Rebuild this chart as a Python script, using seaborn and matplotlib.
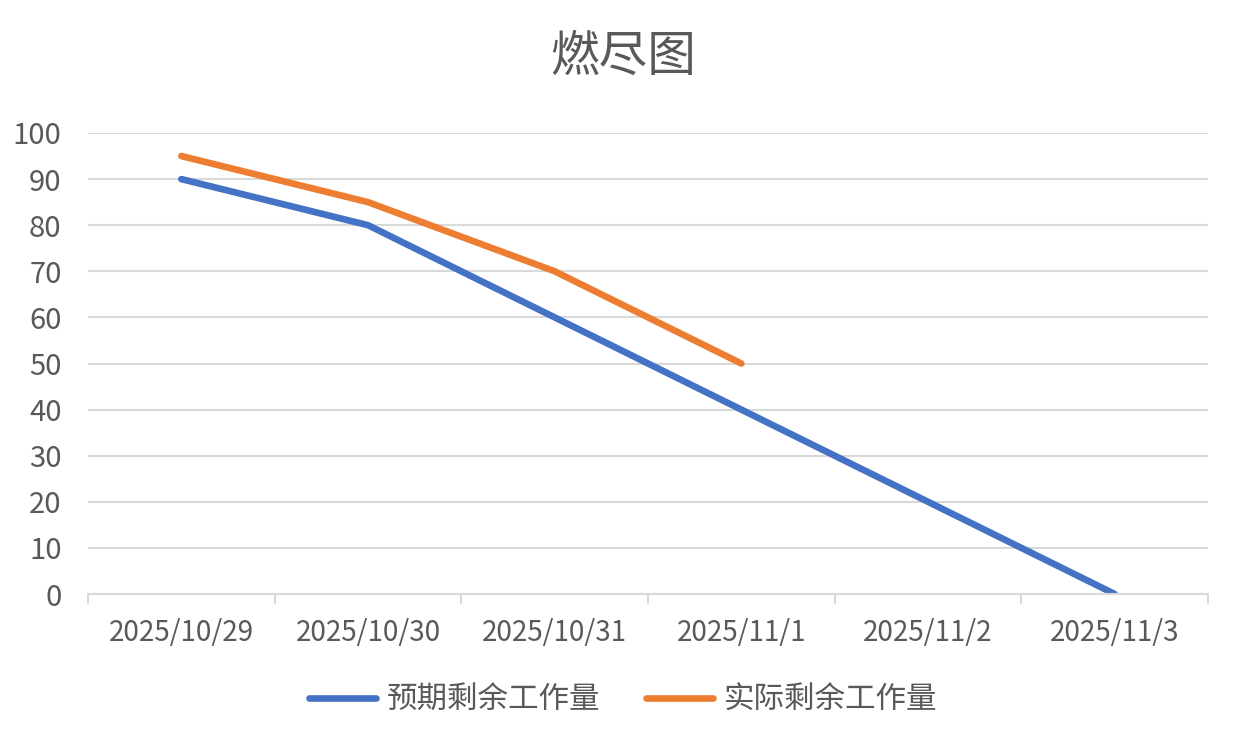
import numpy as np
import pandas as pd
import matplotlib
matplotlib.use("Agg")
import matplotlib.pyplot as plt
import seaborn as sns

# data
dates = ["2025/10/29", "2025/10/30", "2025/10/31", "2025/11/1", "2025/11/2", "2025/11/3"]
expected = [90, 80, 60, 40, 20, 0]
actual = [95, 85, 70, 50, np.nan, np.nan]
series_names = ["预期剩余工作量", "实际剩余工作量"]
colors = ["#4472C4", "#ED7D31"]

sns.set_style("white")
plt.rcParams["font.family"] = ["Noto Sans CJK SC", "DejaVu Sans"]

df = pd.DataFrame({"x": list(range(len(dates))) * 2,
                   "value": expected + actual,
                   "series": [series_names[0]] * len(dates) + [series_names[1]] * len(dates)})

fig = plt.figure(figsize=(12.46, 7.47), dpi=100)
ax = fig.add_axes([88 / 1246, 1 - 594 / 747, (1208 - 88) / 1246, (594 - 133) / 747])

sns.lineplot(data=df, x="x", y="value", hue="series", palette=colors,
             linewidth=4.8, ax=ax, solid_capstyle="round", legend=False)

ax.set_xlim(-0.5, len(dates) - 0.5)
ax.set_ylim(0, 100)
ax.set_yticks(range(0, 101, 10))
ax.set_xticks(range(len(dates)))
ax.set_xticklabels(dates)
ax.set_xticks(np.arange(-0.5, len(dates), 1), minor=True)
ax.set_xlabel("")
ax.set_ylabel("")

ax.yaxis.grid(True, color="#D9D9D9", linewidth=1.5)
ax.set_axisbelow(True)
for s in ["top", "right", "left"]:
    ax.spines[s].set_visible(False)
ax.spines["bottom"].set_color("#D9D9D9")
ax.spines["bottom"].set_linewidth(1.5)

ax.tick_params(axis="y", length=0, pad=19, labelsize=21, labelcolor="#595959")
ax.tick_params(axis="x", which="major", bottom=True, length=0, pad=17, labelsize=20, labelcolor="#595959")
ax.tick_params(axis="x", which="minor", bottom=True, length=7, width=1.5, color="#D9D9D9", direction="out")

handles = [plt.Line2D([], [], color=c, linewidth=4.8, solid_capstyle="round") for c in colors]
fig.legend(handles, series_names, loc="center", bbox_to_anchor=(0.5, 1 - 700 / 747),
           ncol=2, frameon=False, fontsize=22, handlelength=2.2, columnspacing=1.5,
           handletextpad=0.35, labelcolor="#595959")

fig.text(0.5, 1 - 57 / 747, "燃尽图", ha="center", va="center", fontsize=35, color="#595959")

fig.savefig("out.png", dpi=100)
